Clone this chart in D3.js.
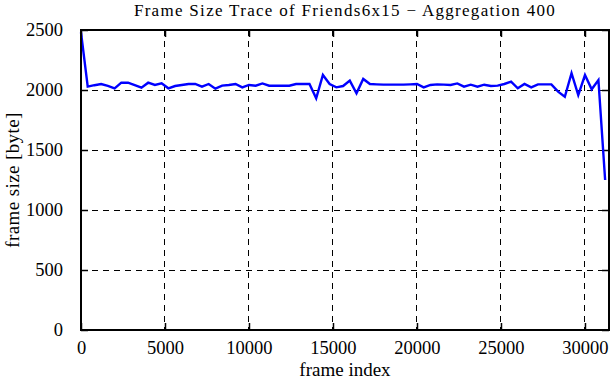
<!DOCTYPE html>
<html>
<head>
<meta charset="utf-8">
<script src="https://cdn.jsdelivr.net/npm/d3@7"></script>
<style>
body{margin:0;background:#fff;}
svg{display:block;font-family:"Liberation Serif","DejaVu Serif",serif;}
</style>
</head>
<body>
<svg width="611" height="380"></svg>
<script>
// frame index (aggregation 400)
var frameIndex = [0,400,800,1200,1600,2000,2400,2800,3200,3600,4000,4400,4800,5200,5600,6000,6400,6800,7200,7600,
    8000,8400,8800,9200,9600,10000,10400,10800,11200,11600,12000,12400,12800,13200,13600,14000,14400,14800,15200,15600,
    16000,16400,16800,17200,17600,18000,18400,18800,19200,19600,20000,20400,20800,21200,21600,22000,22400,22800,23200,23600,
    24000,24400,24800,25200,25600,26000,26400,26800,27200,27600,28000,28400,28800,29200,29600,30000,30400,30800,31200];
// frame size [byte]
var frameSize = [2480,2028,2040,2050,2035,2014,2061,2061,2040,2019,2061,2042,2055,2014,2033,2042,2050,2050,2028,2050,
    2011,2036,2042,2050,2022,2042,2036,2055,2036,2036,2036,2036,2050,2050,2050,1931,2125,2050,2022,2033,
    2078,1972,2092,2050,2047,2045,2045,2045,2045,2047,2050,2022,2042,2047,2045,2042,2055,2028,2044,2028,
    2044,2033,2036,2050,2069,2014,2050,2022,2047,2047,2047,1986,1944,2140,1958,2125,2006,2083,1250];

var xTicks = [0,5000,10000,15000,20000,25000,30000];
var yTicks = [0,500,1000,1500,2000,2500];

var chartTitle = "Frame Size Trace of Friends6x15 \u2212 Aggregation 400";
var xLabel = "frame index";
var yLabel = "frame size [byte]";

const svg = d3.select('svg');
var pLeft=81, pRight=609, pTop=30, pBottom=330;

var x = d3.scaleLinear().domain([0,31430]).range([pLeft,pRight]);
var y = d3.scaleLinear().domain([0,2500]).range([pBottom,pTop]);

//grid lines
svg.append('g').selectAll('line')
    .data(xTicks.slice(1))
    .enter().append('line')
    .attr('x1',d=>x(d)).attr('x2',d=>x(d))
    .attr('y1',pTop).attr('y2',pBottom)
    .attr('stroke','black').attr('stroke-width',1)
    .attr('shape-rendering','crispEdges')
    .attr('stroke-dasharray','6,5');

svg.append('g').selectAll('line')
    .data(yTicks.slice(1,-1))
    .enter().append('line')
    .attr('x1',pLeft).attr('x2',pRight)
    .attr('y1',d=>y(d)).attr('y2',d=>y(d))
    .attr('stroke','black').attr('stroke-width',1)
    .attr('shape-rendering','crispEdges')
    .attr('stroke-dasharray','6,5');

//axes, ticks inward on all four sides
const fs = '18.5px';
const fmt = d3.format('d');
svg.append('g')
    .attr('transform',`translate(0,${pBottom})`)
    .call(d3.axisBottom(x).tickValues(xTicks).tickFormat(fmt).tickSizeInner(-7).tickSizeOuter(0).tickPadding(11))
    .call(g=>g.select('.domain').remove())
    .call(g=>g.selectAll('text').style('font-size',fs).attr('fill','black').attr('font-family','Liberation Serif'));
svg.append('g')
    .attr('transform',`translate(0,${pTop})`)
    .call(d3.axisTop(x).tickValues(xTicks).tickSizeInner(-7).tickSizeOuter(0).tickFormat(''))
    .call(g=>g.select('.domain').remove());
svg.append('g')
    .attr('transform',`translate(${pLeft},0)`)
    .call(d3.axisLeft(y).tickValues(yTicks).tickFormat(fmt).tickSizeInner(-7).tickSizeOuter(0).tickPadding(18))
    .call(g=>g.select('.domain').remove())
    .call(g=>g.selectAll('text').style('font-size',fs).attr('fill','black').attr('font-family','Liberation Serif'));
svg.append('g')
    .attr('transform',`translate(${pRight},0)`)
    .call(d3.axisRight(y).tickValues(yTicks).tickSizeInner(-7).tickSizeOuter(0).tickFormat(''))
    .call(g=>g.select('.domain').remove());
svg.selectAll('.tick line').attr('stroke','black').attr('stroke-width',1.5);

//the trace
var line = d3.line()
    .x((d,i)=>x(frameIndex[i]))
    .y(d=>y(d));

svg.append('path')
    .datum(frameSize)
    .attr('d',line)
    .attr('fill','none')
    .attr('stroke','#0000ff')
    .attr('stroke-width',2.4)
    .attr('stroke-linejoin','miter');

//frame
svg.append('rect')
    .attr('x',pLeft).attr('y',pTop)
    .attr('width',pRight-pLeft).attr('height',pBottom-pTop)
    .attr('fill','none')
    .attr('stroke','black')
    .attr('stroke-width',2);

//texts
svg.append('text')
    .attr('x',(pLeft+pRight)/2).attr('y',16)
    .attr('text-anchor','middle')
    .style('font-size','17px')
    .style('letter-spacing','1.3px')
    .text(chartTitle);

svg.append('text')
    .attr('x',(pLeft+pRight)/2).attr('y',376)
    .attr('text-anchor','middle')
    .style('font-size','19px')
    .text(xLabel);

svg.append('text')
    .attr('transform',`translate(19,${(pTop+pBottom)/2}) rotate(-90)`)
    .attr('text-anchor','middle')
    .style('font-size','19px')
    .style('letter-spacing','0.4px')
    .text(yLabel);
</script>
</body>
</html>
